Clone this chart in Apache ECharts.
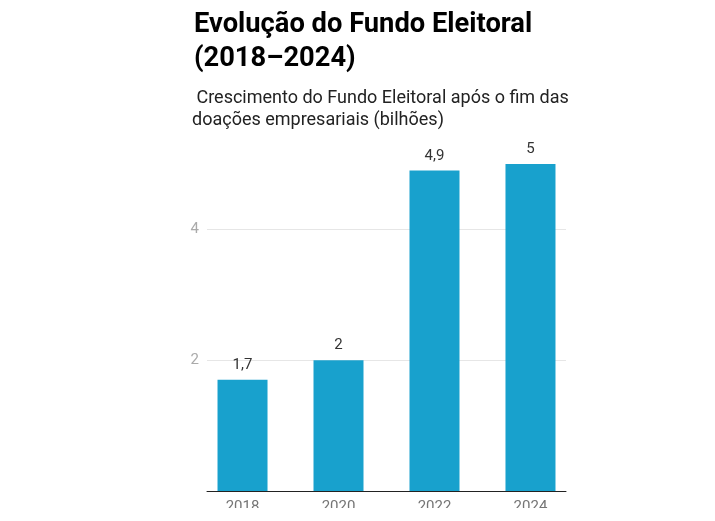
<!DOCTYPE html>
<html>
<head>
<meta charset="utf-8">
<script src="https://cdn.jsdelivr.net/npm/echarts@6/dist/echarts.min.js"></script>
<style>
  html, body { margin: 0; padding: 0; background: #fff; }
  #wrap { width: 715px; height: 508px; overflow: hidden; }
  #chart { width: 715px; height: 521px; }
</style>
</head>
<body>
<div id="wrap"><div id="chart"></div></div>
<script>
'use strict';
// Evolução do Fundo Eleitoral — simple column chart, values in R$ bilhões

const YEARS = ['2018', '2020', '2022', '2024'];
const FUNDO = [1.7, 2, 4.9, 5];
const Y_TICKS = [2, 4];

const TITLE = 'Evolução do Fundo Eleitoral\n(2018–2024)';
const SUBTITLE = ' Crescimento do Fundo Eleitoral após o fim das\ndoações empresariais (bilhões)';

const FONT = "Roboto, 'Noto Sans', sans-serif";
const BAR = '#18a1cd';

function fmtBr(v) { return String(v).replace('.', ','); }

const chart = echarts.init(document.getElementById('chart'), null, { renderer: 'canvas' });

chart.setOption({
  animation: false,
  textStyle: { fontFamily: FONT },
  title: [
    {
      text: TITLE, left: 189, top: 3,
      textStyle: { fontSize: 27.3, fontWeight: 'bold', color: '#000', lineHeight: 34, fontFamily: FONT }
    },
    {
      text: SUBTITLE, left: 187, top: 82,
      textStyle: { fontSize: 18, fontWeight: 'normal', color: '#222', lineHeight: 22, fontFamily: FONT }
    }
  ],
  grid: { left: 207, right: 149, top: 164, bottom: 30, containLabel: false },
  xAxis: {
    type: 'value', min: -0.37, max: 3.37,
    axisLine: { show: true, lineStyle: { color: '#222', width: 1 } },
    axisTick: { show: false },
    splitLine: { show: false },
    axisLabel: {
      customValues: YEARS.map((_, i) => i),
      formatter: v => YEARS[v] || '',
      color: '#757575', fontSize: 15, margin: 9, fontFamily: FONT
    }
  },
  yAxis: {
    type: 'value', min: 0, max: 5, interval: 2,
    axisLine: { show: false },
    axisTick: { show: false },
    axisLabel: {
      customValues: Y_TICKS,
      color: '#aaa', fontSize: 15, margin: 8, fontFamily: FONT
    },
    splitLine: { showMinLine: false, showMaxLine: false, lineStyle: { color: '#e6e6e6', width: 1 } }
  },
  series: [{
    type: 'bar',
    data: FUNDO.map((v, i) => [i, v]),
    barWidth: 50,
    itemStyle: { color: BAR },
    label: {
      show: true, position: 'top', distance: 7,
      color: '#333', fontSize: 15, fontFamily: FONT,
      formatter: p => fmtBr(p.value[1])
    }
  }]
});
</script>
</body>
</html>
